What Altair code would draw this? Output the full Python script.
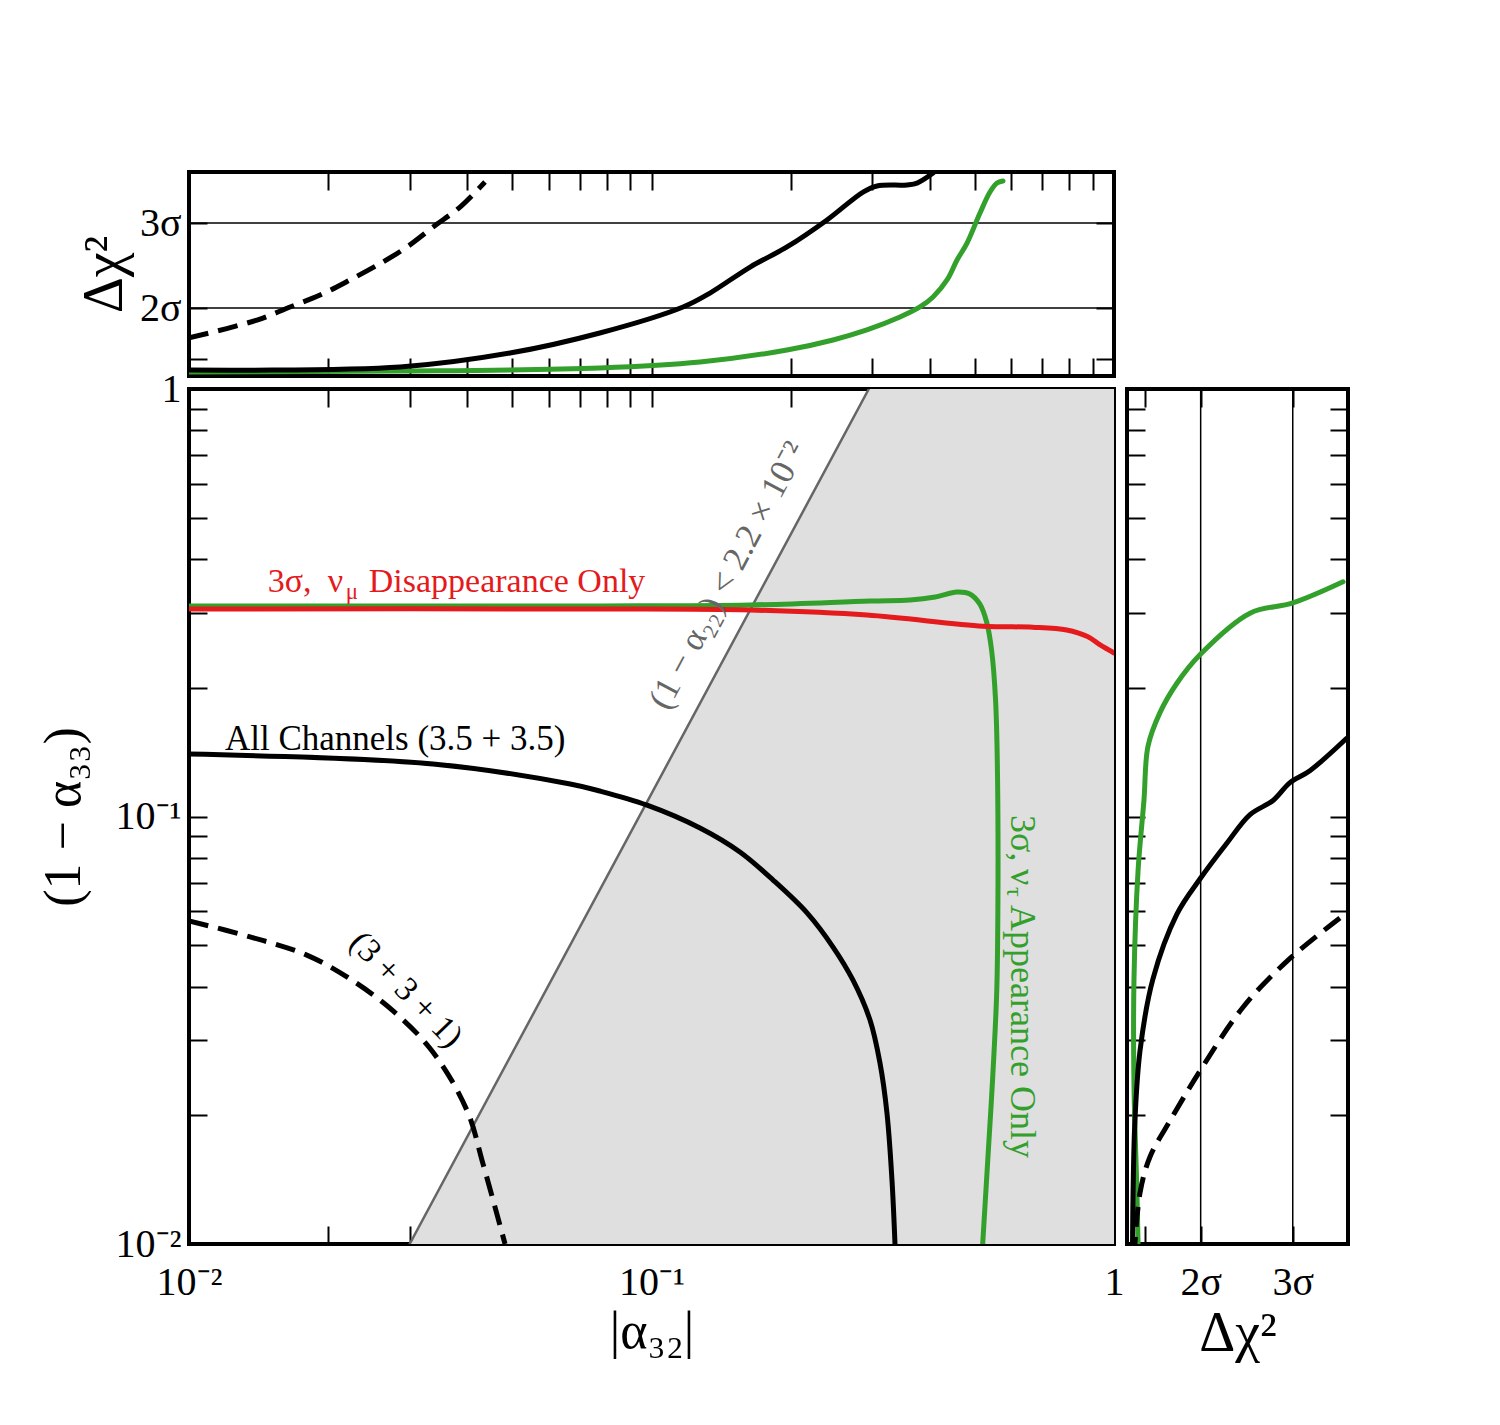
import altair as alt
import pandas as pd

SERIF = "Liberation Serif"
BLACK = "#000000"
RED = "#e41a1c"
GREEN = "#33a02c"
GRAY_LINE = "#666666"
GRAY_FILL = "#dfdfdf"

# ---------------- main panel: |alpha_32| vs (1 - alpha_33) ----------------
# 3 sigma, nu_mu disappearance only
RED_X = [0.01, 0.0773, 0.1634, 0.2922, 0.5206, 0.6671, 0.7903, 0.8763, 0.9334, 1.0]
RED_Y = [0.3058, 0.3058, 0.3041, 0.2960, 0.2787, 0.2772, 0.2731, 0.2636, 0.2519, 0.2413]

# 3 sigma, nu_tau appearance only
GREEN_X = [0.01, 0.0773, 0.1634, 0.2968, 0.3623, 0.4106, 0.4577, 0.4878, 0.5125,
           0.5304, 0.5436, 0.5545, 0.5601, 0.5601, 0.5573, 0.5463, 0.5330, 0.5201]
GREEN_Y = [0.3108, 0.3108, 0.3125, 0.3192, 0.3209, 0.3262, 0.3351, 0.3315, 0.3142,
           0.2851, 0.2452, 0.1873, 0.1217, 0.0495, 0.0378, 0.0242, 0.0155, 0.0100]

# all channels (3.5 + 3.5)
ALL_X = [0.01, 0.0337, 0.0667, 0.0773, 0.0978, 0.1273, 0.1553, 0.1832, 0.2169,
         0.2469, 0.2727, 0.2968, 0.3119, 0.3230, 0.3311, 0.3361]
ALL_Y = [0.1400, 0.1327, 0.1191, 0.1147, 0.1063, 0.0940, 0.0826, 0.0710, 0.0595,
         0.0495, 0.0414, 0.0334, 0.0265, 0.0202, 0.0141, 0.0100]

# (3 + 3 + 1)
S331_X = [0.01, 0.01355, 0.01798, 0.02229, 0.02762, 0.0337, 0.03993, 0.04322, 0.04823]
S331_Y = [0.0570, 0.0523, 0.0474, 0.0417, 0.0351, 0.0281, 0.0205, 0.0154, 0.0100]

# unitarity bound (1 - alpha_22) < 2.2e-2, excluded to the right
BOUND_X = [0.030, 0.295]
BOUND_Y = [0.01, 1.0]

# ---------------- top panel: Δχ² vs |alpha_32| ----------------
TOP_ALL_X = [0.01, 0.0286, 0.04943, 0.0773, 0.1170, 0.1338, 0.1634, 0.1963, 0.2396,
             0.2867, 0.3074, 0.3568, 0.3751, 0.4062]
TOP_ALL_D = [0.35, 0.53, 1.35, 2.53, 4.06, 4.88, 6.41, 7.59, 9.18,
             10.82, 11.18, 11.24, 11.35, 11.94]
TOP_GREEN_X = [0.01, 0.0286, 0.0773, 0.1273, 0.1963, 0.2469, 0.2922, 0.3445, 0.3806,
               0.4062, 0.4355, 0.4577, 0.4811, 0.5132, 0.5393, 0.5584, 0.5754]
TOP_GREEN_D = [0.24, 0.29, 0.47, 0.82, 1.53, 2.12, 2.71, 3.47, 4.06,
               4.65, 5.65, 6.82, 7.82, 9.59, 10.82, 11.35, 11.47]
TOP_S331_X = [0.01, 0.01403, 0.01654, 0.0192, 0.02229, 0.02627, 0.0296, 0.0337, 0.03855, 0.04365]
TOP_S331_D = [2.24, 3.29, 4.06, 4.76, 5.65, 6.71, 7.59, 8.76, 9.94, 11.41]

# ---------------- right panel: Δχ² vs (1 - alpha_33) ----------------
RIGHT_GREEN_D = [11.73, 9.01, 6.68, 3.96, 2.71, 1.79, 1.14, 0.92, 0.60, 0.38, 0.38, 0.54, 0.60]
RIGHT_GREEN_Y = [0.354, 0.316, 0.299, 0.239, 0.205, 0.175, 0.146, 0.109, 0.0746,
                 0.0417, 0.0234, 0.0132, 0.0100]
RIGHT_ALL_D = [11.9, 9.93, 8.85, 7.93, 6.68, 5.43, 3.96, 2.71, 1.41, 0.71, 0.43, 0.33, 0.30]
RIGHT_ALL_Y = [0.152, 0.128, 0.120, 0.109, 0.101, 0.0867, 0.0714, 0.0591, 0.0417,
               0.0284, 0.0194, 0.0132, 0.0100]
RIGHT_S331_D = [11.56, 8.69, 6.30, 3.96, 2.33, 1.25, 0.71, 0.43]
RIGHT_S331_Y = [0.0579, 0.0459, 0.0358, 0.0254, 0.0194, 0.0160, 0.0132, 0.0100]

# ---------------- ticks ----------------
LOG_TICKS = [round(m * 10.0 ** e, 4) for e in (-2, -1) for m in range(1, 10)] + [1.0]
LOG_LABELS = {0.01: "10⁻²", 0.1: "10⁻¹", 1.0: "1"}
CHI_TICKS = [1, 4, 9]
CHI_LABELS = {4: "2σ", 9: "3σ"}
SIGMA_LINES = [4, 9]

x_log = alt.Scale(type="log", domain=[0.01, 1], nice=False)
y_log = alt.Scale(type="log", domain=[0.01, 1], nice=False)
chi = alt.Scale(type="linear", domain=[0, 12], nice=False, zero=False)


def label_expr(mapping):
    expr = "''"
    for val, txt in mapping.items():
        expr = f"datum.value == {val} ? '{txt}' : ({expr})"
    return expr


def frame_axis(orient, values, labels=None, title=None, label_pad=8, title_pad=10,
               title_size=52):
    """Axis whose ticks point into the frame (offset pulls the axis inside)."""
    kw = dict(orient=orient, values=values, tickSize=18, offset=-18, domain=False,
              grid=False, tickColor=BLACK, tickWidth=2, labelFont=SERIF,
              labelFontSize=40, labelColor=BLACK, labelPadding=label_pad,
              labelFlush=False, labelOverlap=False, titleFont=SERIF,
              titleFontSize=title_size, titleFontWeight="normal", titleColor=BLACK,
              titlePadding=title_pad, title=title)
    if labels is None:
        kw["labels"] = False
    else:
        kw["labelExpr"] = label_expr(labels)
    return alt.Axis(**kw)


def axis_layer(xscale, yscale, xdom, ydom, xaxis, yaxis):
    df = pd.DataFrame({"x": xdom, "y": ydom})
    return alt.Chart(df).mark_point(opacity=0).encode(
        x=alt.X("x:Q", scale=xscale, axis=xaxis),
        y=alt.Y("y:Q", scale=yscale, axis=yaxis),
    )


def curve(xs, ys, xscale, yscale, color, width, dash=None, smooth=True):
    df = pd.DataFrame({"x": xs, "y": ys, "i": list(range(len(xs)))})
    props = dict(color=color, strokeWidth=width, clip=True, strokeJoin="round",
                 interpolate="catmull-rom" if smooth else "linear")
    if dash:
        props["strokeDash"] = dash
        props["strokeCap"] = "butt"
    else:
        props["strokeCap"] = "round"
    return alt.Chart(df).mark_line(**props).encode(
        x=alt.X("x:Q", scale=xscale, axis=None),
        y=alt.Y("y:Q", scale=yscale, axis=None),
        order="i:Q",
    )


def label(x, y, text, color, size, angle=0, dx=0, dy=0, align="left", baseline="alphabetic"):
    df = pd.DataFrame({"x": [x], "y": [y], "t": [text]})
    return alt.Chart(df).mark_text(
        font=SERIF, fontSize=size, color=color, angle=angle, dx=dx, dy=dy,
        align=align, baseline=baseline,
    ).encode(
        x=alt.X("x:Q", scale=x_log, axis=None),
        y=alt.Y("y:Q", scale=y_log, axis=None),
        text="t:N",
    )


DASH = [20, 10]

# ---------------- main panel ----------------
bound_df = pd.DataFrame({"x": BOUND_X, "y": BOUND_Y, "xr": [1.0, 1.0]})
region = alt.Chart(bound_df).mark_area(orient="horizontal", color=GRAY_FILL, clip=True).encode(
    y=alt.Y("y:Q", scale=y_log, axis=None),
    x=alt.X("x:Q", scale=x_log, axis=None),
    x2="xr:Q",
)

main = alt.layer(
    axis_layer(x_log, y_log, [0.01, 1.0], [0.01, 1.0],
               frame_axis("bottom", LOG_TICKS, LOG_LABELS, "|α₃₂|", label_pad=18, title_pad=4),
               frame_axis("left", LOG_TICKS, LOG_LABELS, "(1 − α₃₃)", label_pad=8, title_pad=25)),
    axis_layer(x_log, y_log, [0.01, 1.0], [0.01, 1.0],
               frame_axis("top", LOG_TICKS), frame_axis("right", LOG_TICKS)),
    region,
    curve(BOUND_X, BOUND_Y, x_log, y_log, GRAY_LINE, 2.5, smooth=False),
    curve(GREEN_X, GREEN_Y, x_log, y_log, GREEN, 5),
    curve(RED_X, RED_Y, x_log, y_log, RED, 5),
    curve(ALL_X, ALL_Y, x_log, y_log, BLACK, 5),
    curve(S331_X, S331_Y, x_log, y_log, BLACK, 5, DASH),
    # red label: 3σ, ν_μ Disappearance Only
    label(0.0148, 0.335, "3σ,", RED, 34),
    label(0.0148, 0.335, "ν", RED, 34, dx=60),
    label(0.0148, 0.335, "μ", RED, 23, dx=78, dy=7),
    label(0.0148, 0.335, "Disappearance Only", RED, 34, dx=101),
    label(0.01196, 0.143, "All Channels (3.5 + 3.5)", BLACK, 35),
    label(0.02945, 0.0393, "(3 + 3 + 1)", BLACK, 34, angle=46, align="center", baseline="middle"),
    label(0.150, 0.361, "(1 − α₂₂) < 2.2 × 10⁻²", GRAY_LINE, 35, angle=298, dy=-6,
          align="center", baseline="middle"),
    # green label: 3σ, ν_τ Appearance Only (reads downward)
    label(0.6327, 0.1008, "3σ,", GREEN, 36, angle=90, baseline="middle"),
    label(0.6327, 0.1008, "ν", GREEN, 36, angle=90, dx=54, baseline="middle"),
    label(0.6327, 0.1008, "τ", GREEN, 24, angle=90, dx=72, dy=8, baseline="middle"),
    label(0.6327, 0.1008, "Appearance Only", GREEN, 36, angle=90, dx=90, baseline="middle"),
).resolve_axis(x="independent", y="independent").properties(width=925, height=855)

# ---------------- top panel ----------------
top_grid = alt.Chart(pd.DataFrame({"d": SIGMA_LINES})).mark_rule(color=BLACK, strokeWidth=1.5).encode(
    y=alt.Y("d:Q", scale=chi, axis=None)
)
top = alt.layer(
    axis_layer(x_log, chi, [0.01, 1.0], [0, 12],
               frame_axis("bottom", LOG_TICKS),
               frame_axis("left", CHI_TICKS, CHI_LABELS, "Δχ²", label_pad=8, title_pad=6,
                          title_size=56)),
    axis_layer(x_log, chi, [0.01, 1.0], [0, 12],
               frame_axis("top", LOG_TICKS), frame_axis("right", CHI_TICKS)),
    top_grid,
    curve(TOP_GREEN_X, TOP_GREEN_D, x_log, chi, GREEN, 5),
    curve(TOP_ALL_X, TOP_ALL_D, x_log, chi, BLACK, 5),
    curve(TOP_S331_X, TOP_S331_D, x_log, chi, BLACK, 5, DASH),
).resolve_axis(x="independent", y="independent").properties(width=925, height=204)

# ---------------- right panel ----------------
right_grid = alt.Chart(pd.DataFrame({"d": SIGMA_LINES})).mark_rule(color=BLACK, strokeWidth=1.5).encode(
    x=alt.X("d:Q", scale=chi, axis=None)
)
right = alt.layer(
    axis_layer(chi, y_log, [0, 12], [0.01, 1.0],
               frame_axis("bottom", CHI_TICKS, CHI_LABELS, "Δχ²", label_pad=18, title_pad=4,
                          title_size=56),
               frame_axis("left", LOG_TICKS)),
    axis_layer(chi, y_log, [0, 12], [0.01, 1.0],
               frame_axis("top", CHI_TICKS), frame_axis("right", LOG_TICKS)),
    right_grid,
    curve(RIGHT_GREEN_D, RIGHT_GREEN_Y, chi, y_log, GREEN, 5),
    curve(RIGHT_ALL_D, RIGHT_ALL_Y, chi, y_log, BLACK, 5),
    curve(RIGHT_S331_D, RIGHT_S331_Y, chi, y_log, BLACK, 5, DASH),
).resolve_axis(x="independent", y="independent").properties(width=221, height=855)

chart = alt.vconcat(
    top,
    alt.hconcat(main, right, spacing=13, bounds="flush"),
    spacing=13,
    bounds="flush",
).properties(
    padding={"left": 35, "top": 167, "right": 10, "bottom": 10},
    background="white",
).configure_view(
    stroke=BLACK, strokeWidth=4
)

chart.save("out.html", embed_options={"renderer": "svg", "actions": False})
